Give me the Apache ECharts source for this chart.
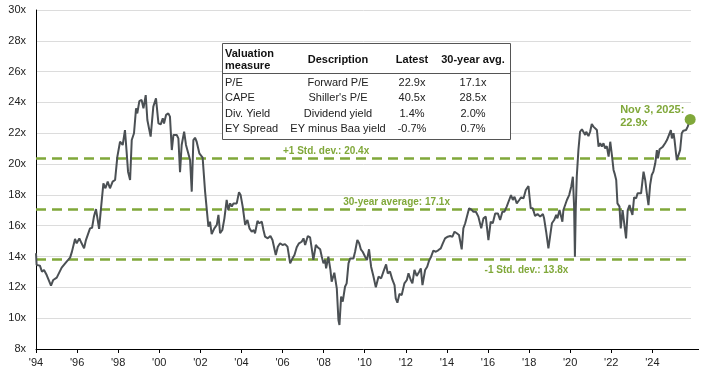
<!DOCTYPE html>
<html>
<head>
<meta charset="utf-8">
<script src="https://cdn.jsdelivr.net/npm/echarts@6/dist/echarts.min.js"></script>
<style>
html,body{margin:0;padding:0;background:#fff;}
#c{width:701px;height:374px;}
</style>
</head>
<body>
<div id="c"></div>
<script>
// Decimal year of each reading
var years = [
1994.00,1994.03,1994.19,1994.29,1994.39,1994.52,1994.73,1994.84,1995.01,1995.25,1995.49,1995.66,1995.75,1995.82,1995.90,1995.98,
1996.11,1996.22,1996.34,1996.43,1996.63,1996.73,1996.82,1996.92,1997.07,1997.16,1997.28,1997.38,1997.49,1997.60,1997.73,1997.85,1997.96,
1998.09,1998.22,1998.33,1998.41,1998.48,1998.58,1998.66,1998.77,1998.87,1998.93,1999.03,1999.14,1999.23,1999.34,1999.42,1999.58,1999.71,1999.84,1999.96,
2000.07,2000.17,2000.23,2000.33,2000.44,2000.52,2000.61,2000.69,2000.85,2000.93,2001.01,2001.09,2001.21,2001.30,2001.38,2001.50,2001.58,2001.66,2001.74,2001.82,2001.95,
2002.03,2002.11,2002.23,2002.39,2002.47,2002.55,2002.68,2002.80,2002.88,2002.96,2003.07,2003.17,2003.28,2003.36,2003.45,2003.53,2003.61,2003.69,2003.77,2003.88,2003.96,
2004.06,2004.18,2004.29,2004.39,2004.50,2004.60,2004.66,2004.78,2004.87,2004.99,2005.07,2005.15,2005.28,2005.41,2005.51,2005.67,2005.77,2005.88,
2006.00,2006.12,2006.24,2006.37,2006.48,2006.58,2006.69,2006.80,2006.93,2007.02,2007.10,2007.23,2007.34,2007.42,2007.50,2007.62,2007.71,2007.83,2007.91,2007.99,
2008.07,2008.12,2008.23,2008.33,2008.39,2008.52,2008.64,2008.72,2008.77,2008.85,2008.93,2009.04,2009.12,2009.21,2009.29,2009.45,2009.53,2009.64,2009.73,2009.81,2009.90,
2010.02,2010.11,2010.21,2010.31,2010.42,2010.54,2010.67,2010.80,2010.91,2011.04,2011.12,2011.23,2011.35,2011.45,2011.51,2011.59,2011.69,2011.80,2011.93,
2012.05,2012.13,2012.24,2012.32,2012.42,2012.53,2012.65,2012.73,2012.81,2012.94,2013.04,2013.13,2013.23,2013.34,2013.46,2013.59,2013.70,2013.80,2013.91,
2014.04,2014.16,2014.27,2014.37,2014.48,2014.59,2014.67,2014.72,2014.80,2014.89,2014.98,2015.08,2015.18,2015.29,2015.41,2015.53,2015.67,2015.78,2015.89,
2016.02,2016.13,2016.23,2016.35,2016.48,2016.59,2016.70,2016.80,2016.91,2017.03,2017.12,2017.21,2017.29,2017.40,2017.52,2017.61,2017.73,2017.84,2017.97,
2018.02,2018.08,2018.18,2018.29,2018.41,2018.54,2018.67,2018.73,2018.83,2018.94,2019.02,2019.11,2019.22,2019.32,2019.38,2019.48,2019.56,2019.62,2019.67,2019.76,2019.84,2019.95,
2020.05,2020.13,2020.19,2020.23,2020.27,2020.32,2020.40,2020.48,2020.57,2020.65,2020.73,2020.78,2020.89,2020.97,
2021.05,2021.13,2021.22,2021.30,2021.38,2021.46,2021.54,2021.62,2021.70,2021.78,2021.87,2021.95,
2022.03,2022.11,2022.16,2022.24,2022.30,2022.40,2022.46,2022.55,2022.63,2022.72,2022.80,2022.89,2022.95,
2023.03,2023.11,2023.21,2023.28,2023.37,2023.45,2023.57,2023.65,2023.73,2023.81,2023.89,2023.97,
2024.05,2024.14,2024.22,2024.27,2024.35,2024.43,2024.51,2024.62,2024.71,2024.79,2024.90,2024.95,
2025.03,2025.08,2025.14,2025.19,2025.27,2025.35,2025.43,2025.51,2025.64,2025.72,2025.84
];
// Forward P/E readings
var forwardPE = [
14.21,13.45,13.41,13.02,13.13,12.80,12.11,12.48,12.63,13.28,13.67,13.93,14.32,14.27,15.14,14.86,
15.18,14.86,14.53,15.07,15.83,15.87,16.59,17.08,15.79,17.08,18.75,18.43,18.86,18.43,18.86,18.97,20.48,
21.45,21.24,22.21,20.81,19.51,18.97,21.56,22.00,23.62,23.29,24.09,24.16,23.62,24.48,22.86,21.78,23.73,24.27,22.64,
22.58,22.97,22.64,23.19,23.29,23.08,20.91,21.89,21.89,21.67,19.47,21.24,22.10,21.24,21.35,20.26,18.21,21.56,21.71,21.45,20.70,
20.81,20.42,18.21,15.94,16.26,15.46,15.83,16.05,16.70,15.51,15.72,16.48,17.67,17.02,17.45,17.24,17.45,17.34,17.45,18.17,17.99,
17.24,16.05,16.37,15.83,15.61,15.72,15.51,16.31,16.16,16.26,15.72,15.29,15.18,15.33,15.07,14.10,14.64,14.86,
14.75,14.81,14.64,13.56,13.88,14.10,14.60,14.86,14.96,15.18,14.75,15.33,15.25,14.53,13.78,14.75,14.60,14.47,13.99,13.56,
13.78,13.23,13.99,13.13,12.37,12.95,11.94,9.88,9.56,11.40,11.07,12.04,12.26,13.56,13.88,13.88,14.31,15.07,14.86,14.47,14.31,
13.99,13.78,14.47,13.34,12.74,12.00,12.69,12.59,13.02,13.49,12.91,13.02,12.48,12.15,11.29,11.00,11.57,11.50,12.26,
12.48,12.91,12.48,12.26,13.13,12.74,13.02,13.23,12.15,13.13,13.34,13.73,13.99,14.38,14.31,14.42,14.53,14.86,15.18,
15.29,15.33,15.29,15.61,15.51,15.40,15.33,14.47,15.83,16.16,16.26,17.13,17.06,16.91,16.91,16.59,15.83,16.48,16.59,
15.07,16.26,16.16,16.80,16.80,16.37,16.91,16.91,17.24,17.67,17.99,17.67,17.88,17.45,17.67,17.84,17.78,18.32,18.58,
17.88,17.13,17.13,16.63,16.76,16.59,16.76,16.48,15.61,14.53,15.29,16.16,16.37,16.70,16.48,17.02,16.59,16.26,17.02,17.06,17.67,17.99,
18.53,19.18,17.24,13.99,17.02,19.18,20.91,22.10,22.26,22.17,21.89,22.10,21.82,22.10,
22.60,22.43,22.32,22.21,21.13,21.35,21.13,21.35,21.02,21.17,20.48,21.45,
20.59,19.62,19.40,18.97,17.45,17.24,15.83,17.02,17.02,15.18,17.02,17.34,17.02,
16.70,17.84,17.78,18.10,18.21,18.10,19.51,18.97,18.10,17.34,18.64,19.29,
19.51,20.05,20.91,20.37,20.96,21.02,21.13,21.35,21.56,21.45,22.21,21.67,
22.00,21.56,20.81,20.26,20.15,20.91,22.00,22.17,22.21,22.43,22.90
];
var yTicks = [8, 10, 12, 14, 16, 18, 20, 22, 24, 26, 28, 30];
var refValues = [20.4, 17.1, 13.8];
var refLabels = ['+1 Std. dev.: 20.4x', '30-year average: 17.1x', '-1 Std. dev.: 13.8x'];
var latestLabel = ['Nov 3, 2025:', '22.9x'];
var tableHeader = ['Valuation\nmeasure', 'Description', 'Latest', '30-year avg.'];
var tableRows = [
  ['P/E', 'Forward P/E', '22.9x', '17.1x'],
  ['CAPE', "Shiller's P/E", '40.5x', '28.5x'],
  ['Div. Yield', 'Dividend yield', '1.4%', '2.0%'],
  ['EY Spread', 'EY minus Baa yield', '-0.7%', '0.7%']
];

var GREEN = '#80a83a';
var FONT = '"Liberation Sans", Arial, sans-serif';
var seriesData = years.map(function (y, i) { return [y, forwardPE[i]]; });
var lastPoint = seriesData[seriesData.length - 1];

var chart = echarts.init(document.getElementById('c'), null, {renderer: 'canvas'});
chart.setOption({
  animation: false,
  backgroundColor: '#fff',
  grid: {left: 36, right: 10, top: 10, bottom: 25, containLabel: false},
  xAxis: {
    type: 'value', min: 1994, max: 2025.88, interval: 2,
    axisLine: {show: true, lineStyle: {color: '#000', width: 1}},
    axisTick: {show: true, length: 4, lineStyle: {color: '#000'}},
    splitLine: {show: false},
    axisLabel: {
      showMaxLabel: false, color: '#222', fontFamily: FONT, fontSize: 11, margin: 8,
      formatter: function (v) { var s = String(Math.round(v) % 100); if (s.length < 2) s = '0' + s; return "'" + s; }
    }
  },
  yAxis: {
    type: 'value', min: yTicks[0], max: yTicks[yTicks.length - 1], interval: 2,
    axisLine: {show: true, lineStyle: {color: '#000', width: 1}},
    axisTick: {show: false},
    splitLine: {show: true, lineStyle: {color: '#dcdcdc', width: 1}},
    axisLabel: {color: '#222', fontFamily: FONT, fontSize: 11, margin: 10, formatter: '{value}x'}
  },
  series: [
    {
      type: 'line', data: seriesData, showSymbol: false, symbol: 'none',
      lineStyle: {color: '#4b5054', width: 2}, z: 3,
      markLine: {
        silent: true, symbol: ['none', 'none'], label: {show: false},
        lineStyle: {color: GREEN, width: 2.5, type: [10, 6], opacity: 1},
        data: refValues.map(function (v) { return {yAxis: v}; }),
        z: 2
      }
    },
    {
      type: 'scatter', data: [lastPoint], symbolSize: 11,
      itemStyle: {color: GREEN, opacity: 1}, z: 5
    }
  ]
});

function placeGraphics() {
  var g = [];
  var p1 = chart.convertToPixel({gridIndex: 0}, [2008.12, refValues[0]]);
  var p2 = chart.convertToPixel({gridIndex: 0}, [2011.55, refValues[1]]);
  var p3 = chart.convertToPixel({gridIndex: 0}, [2017.87, refValues[2]]);
  var lp = chart.convertToPixel({gridIndex: 0}, lastPoint);
  var origin = chart.convertToPixel({gridIndex: 0}, [2025.88, yTicks[0]]);
  var ls = {fill: GREEN, font: 'bold 10px ' + FONT, textAlign: 'center', textVerticalAlign: 'middle'};
  g.push({type: 'line', shape: {x1: origin[0], y1: Math.round(origin[1]) + 0.5, x2: 699, y2: Math.round(origin[1]) + 0.5}, style: {stroke: '#000', lineWidth: 1}, z: 1});
  g.push({type: 'text', x: p1[0], y: p1[1] - 7, style: Object.assign({text: refLabels[0]}, ls), z: 10});
  g.push({type: 'text', x: p2[0], y: p2[1] - 7, style: Object.assign({text: refLabels[1]}, ls), z: 10});
  g.push({type: 'text', x: p3[0], y: p3[1] + 11, style: Object.assign({text: refLabels[2]}, ls), z: 10});
  g.push({type: 'text', x: lp[0] - 70, y: lp[1] - 16, style: {text: latestLabel.join('\n'), fill: GREEN, font: 'bold 11px ' + FONT, lineHeight: 13, textAlign: 'left', textVerticalAlign: 'top'}, z: 10});

  // table
  var tx = 222.5, ty = 43.5, tw = 288, th = 96;
  g.push({type: 'rect', shape: {x: tx, y: ty, width: tw, height: th}, style: {fill: '#fff', stroke: '#555', lineWidth: 1}, z: 20});
  g.push({type: 'line', shape: {x1: tx, y1: 73.5, x2: tx + tw, y2: 73.5}, style: {stroke: '#555', lineWidth: 1}, z: 21});
  var colX = [225, 338, 412, 473];
  var hs = {fill: '#111', font: 'bold 11px ' + FONT, textVerticalAlign: 'middle'};
  g.push({type: 'text', x: colX[0], y: 60, style: Object.assign({text: tableHeader[0], textAlign: 'left', lineHeight: 12.5}, hs), z: 22});
  for (var c = 1; c < 4; c++) {
    g.push({type: 'text', x: colX[c], y: 60, style: Object.assign({text: tableHeader[c], textAlign: 'center'}, hs), z: 22});
  }
  var rowY = [82.5, 98, 113.5, 129];
  tableRows.forEach(function (row, r) {
    row.forEach(function (cell, c) {
      g.push({type: 'text', x: colX[c], y: rowY[r], style: {text: cell, fill: '#222', font: '11px ' + FONT, textAlign: c === 0 ? 'left' : 'center', textVerticalAlign: 'middle'}, z: 22});
    });
  });
  chart.setOption({graphic: g});
}
placeGraphics();
</script>
</body>
</html>
